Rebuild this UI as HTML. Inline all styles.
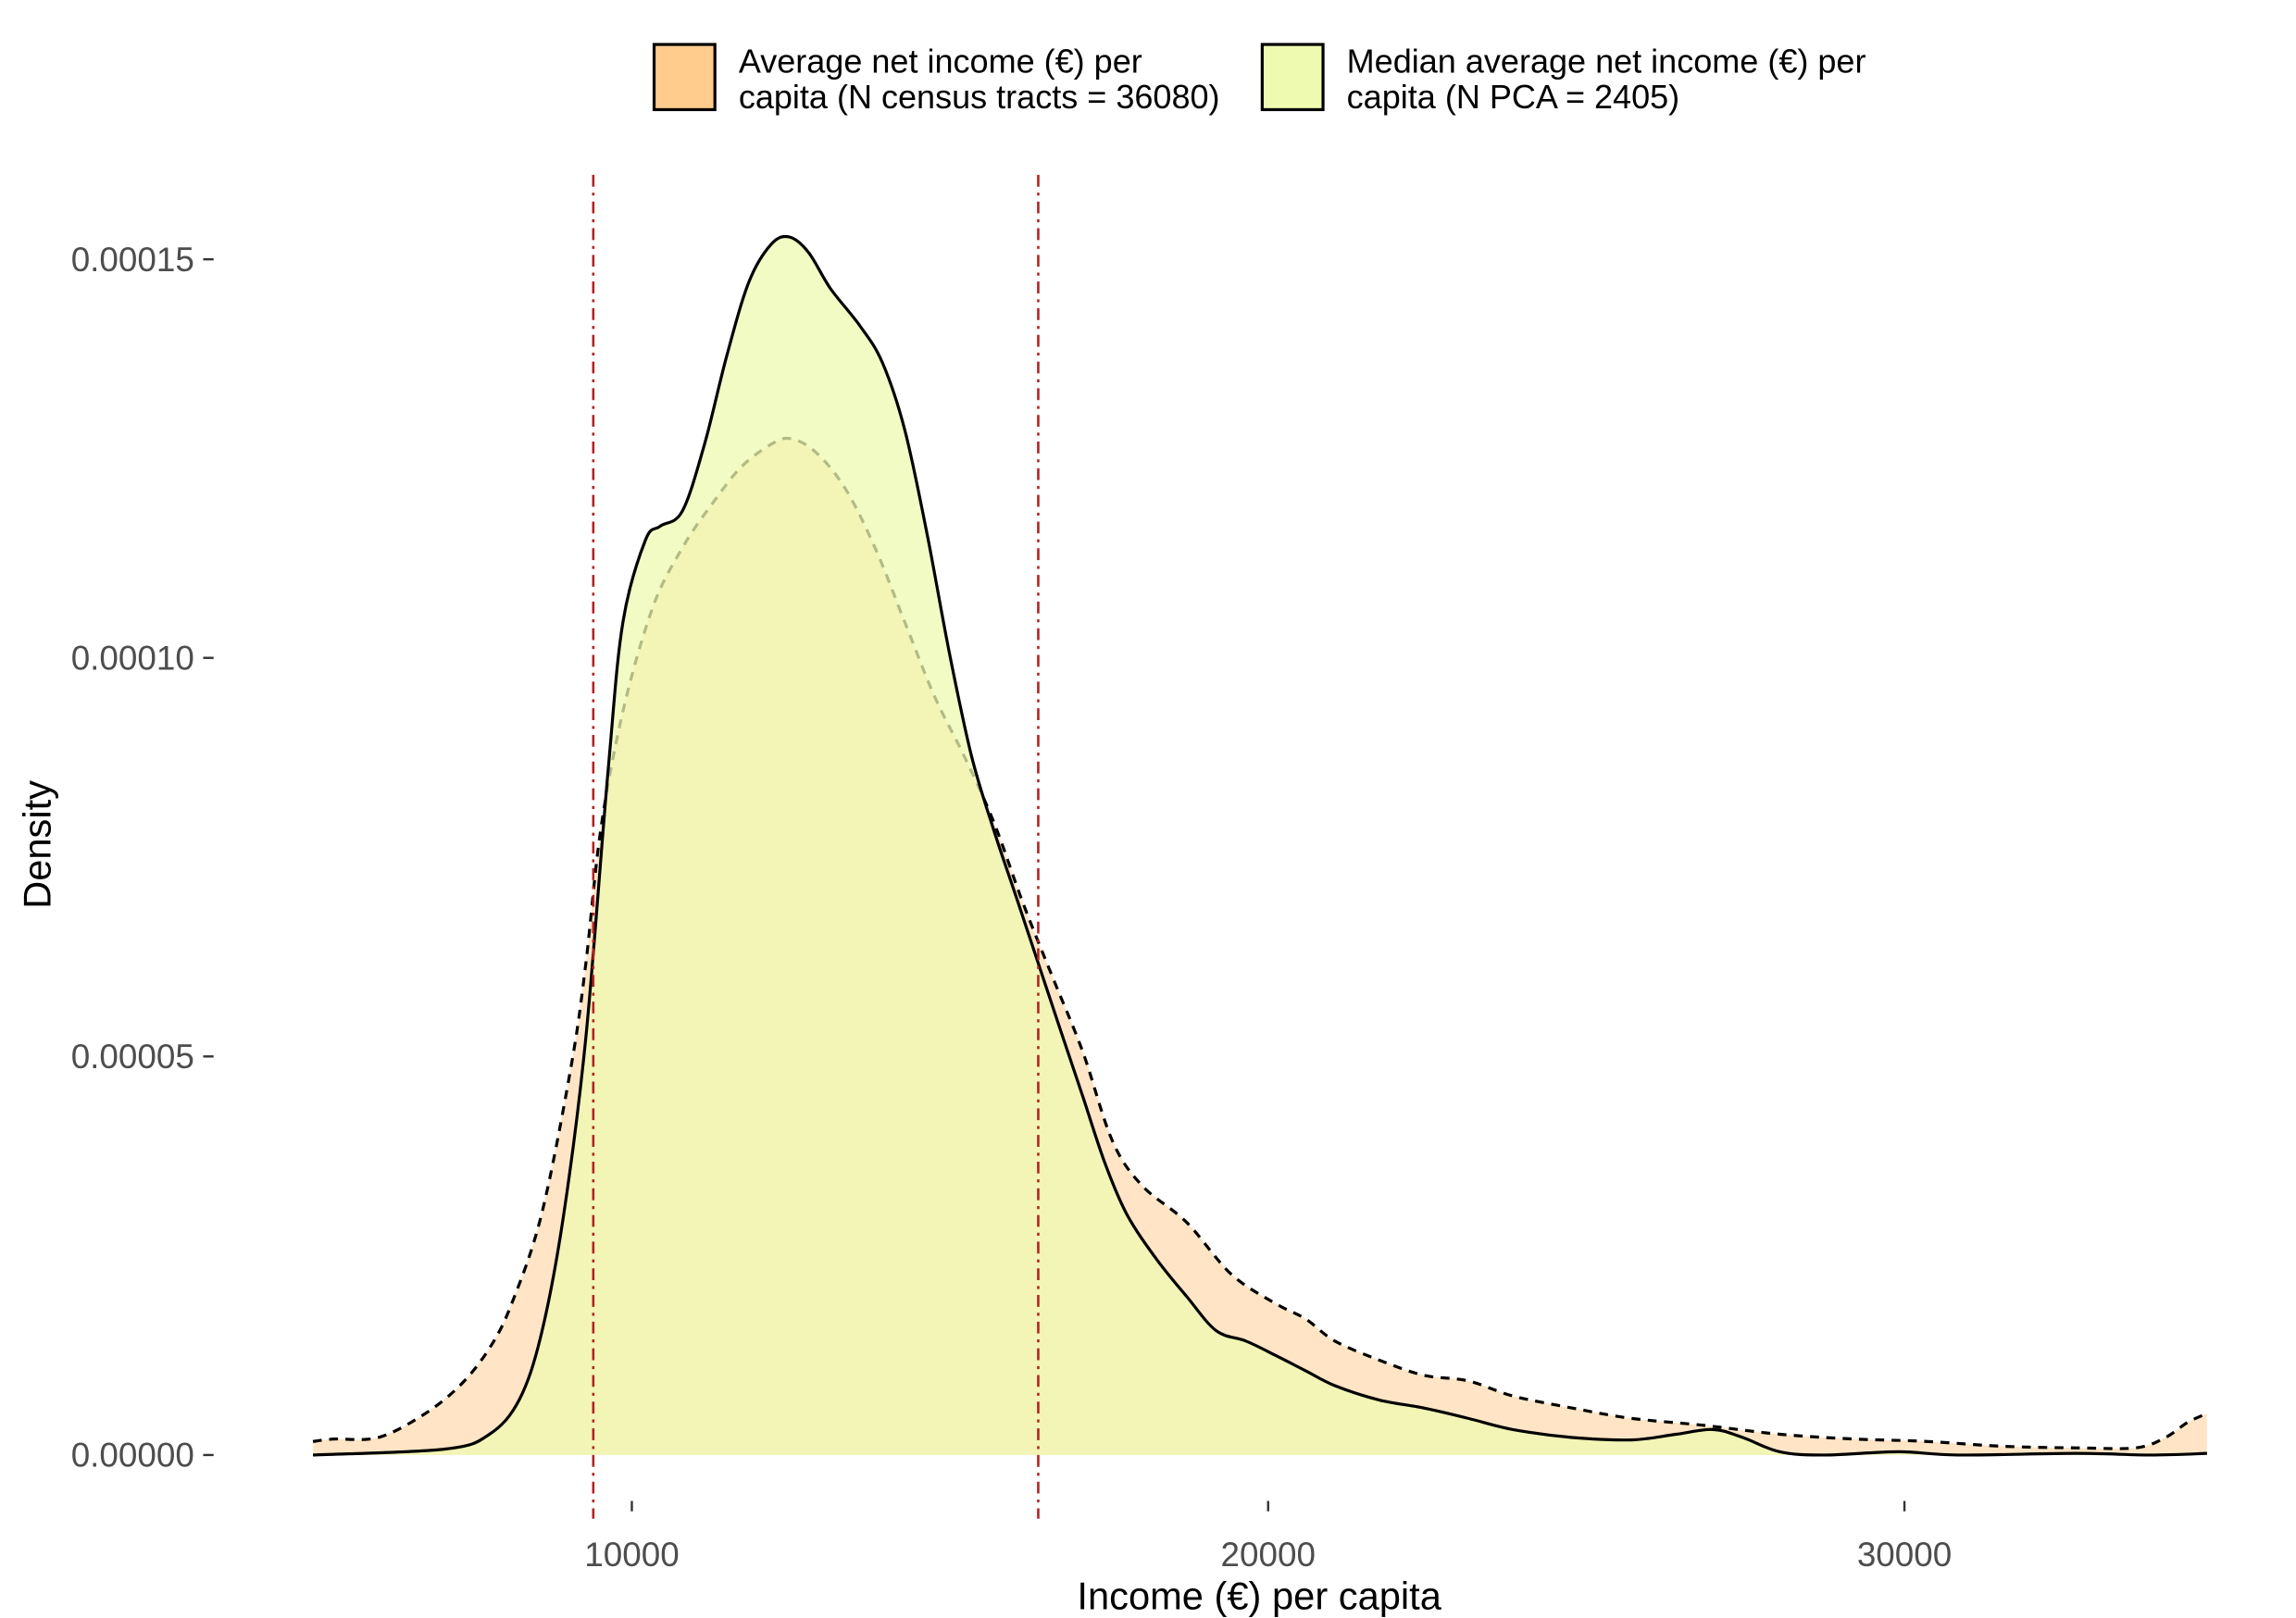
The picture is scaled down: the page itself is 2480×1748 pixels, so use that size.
<!DOCTYPE html>
<html><head><meta charset="utf-8"><style>html,body{margin:0;padding:0;background:#fff}svg{display:block}text{font-family:"Liberation Sans",sans-serif}</style></head>
<body>
<svg id="chart" width="2480" height="1748" viewBox="0 0 1548 1092" preserveAspectRatio="none" xmlns="http://www.w3.org/2000/svg">
<g id="legend">
 <rect x="441" y="30" width="41" height="44" fill="#FFCC8E" stroke="#000" stroke-width="2"/>
 <text x="498" y="49" font-size="22.5" fill="#000">Average net income (€) per</text>
 <text x="498" y="73" font-size="22.5" fill="#000">capita (N census tracts = 36080)</text>
 <rect x="851" y="30" width="41" height="44" fill="#EEFAB0" stroke="#000" stroke-width="2"/>
 <text x="908" y="49" font-size="22.5" fill="#000">Median average net income (€) per</text>
 <text x="908" y="73" font-size="22.5" fill="#000">capita (N PCA = 2405)</text>
</g>
<g id="plot"></g>
<g id="axes"></g>
<text x="849" y="1086" font-size="26" text-anchor="middle" fill="#000">Income (€) per capita</text>
<text transform="translate(34,570) rotate(-90)" font-size="26" text-anchor="middle" fill="#000">Density</text>
</svg>
<script>
const medianIncome=[4988,7063,7762,8228,8578,8928,9277,9627,9860,10210,10443,10793,11142,11492,11842,12191,12471,12774,13124,13590,13940,14289,14639,14988,15338,15688,16037,16387,16737,17086,17436,17786,18252,18718,19184,19650,20117,20583,21049,21748,22447,23147,23846,24778,25711,26410,26993,27459,28042,28741,29907,30839,32704,33869,34755];
const medianDensity=[0,0.074,0.26,0.69,1.52,3.01,5.24,8.59,10.45,11.47,11.65,11.84,12.68,13.79,14.72,15.19,15.28,15.09,14.63,14.16,13.70,12.86,11.56,10.07,8.77,7.84,7.01,6.17,5.33,4.50,3.66,3.01,2.45,1.99,1.56,1.43,1.25,1.06,0.87,0.69,0.59,0.46,0.32,0.22,0.19,0.26,0.32,0.22,0.04,0,0.04,0,0.02,0,0.02];
const avgIncome=[4988,5315,6014,6713,7296,7762,8112,8578,9044,9277,9510,9860,10327,10793,11259,11725,12191,12494,12890,13357,13823,14289,14755,15221,15688,16154,16620,17086,17552,18019,18718,19417,20117,20583,21049,21748,22447,23147,23846,24778,25711,26876,28042,29207,30373,31538,32704,33636,34102,34452,34755];
const avgDensity=[0.17,0.20,0.22,0.50,0.87,1.34,1.90,3.01,4.87,6.17,7.84,9.33,10.63,11.38,11.93,12.40,12.68,12.75,12.58,12.12,11.38,10.45,9.52,8.77,7.94,6.91,5.98,5.06,3.94,3.38,2.92,2.27,1.90,1.71,1.43,1.19,1.00,0.93,0.74,0.59,0.46,0.37,0.26,0.20,0.17,0.11,0.09,0.09,0.22,0.41,0.52];
const vlines=[9394,16387];
const xTicks=[10000,20000,30000];
const xTickLabels=["10000","20000","30000"];
const yTicks=[0,5,10,15];
const yTickLabels=["0.00000","0.00005","0.00010","0.00015"];
const NS="http://www.w3.org/2000/svg";
function X(v){return 426+(v-10000)*429/10000;}
function Y(d){return 982-d*807/15;}
function mk(tag,attrs,parent){const e=document.createElementNS(NS,tag);for(const k in attrs)e.setAttribute(k,attrs[k]);parent.appendChild(e);return e;}
const plot=document.getElementById('plot'),axes=document.getElementById('axes');
function linePath(xs,ys){
 const p=xs.map((v,i)=>[X(v),Y(ys[i])]);
 let d='M'+p[0][0].toFixed(1)+','+p[0][1].toFixed(1);
 for(let i=0;i<p.length-1;i++){
  const p0=p[Math.max(0,i-1)],p1=p[i],p2=p[i+1],p3=p[Math.min(p.length-1,i+2)];
  const c1=[p1[0]+(p2[0]-p0[0])/6,p1[1]+(p2[1]-p0[1])/6];
  const c2=[p2[0]-(p3[0]-p1[0])/6,p2[1]-(p3[1]-p1[1])/6];
  d+=' C'+c1[0].toFixed(1)+','+c1[1].toFixed(1)+' '+c2[0].toFixed(1)+','+c2[1].toFixed(1)+' '+p2[0].toFixed(1)+','+p2[1].toFixed(1);
 }
 return d;
}
function areaPath(xs,ys){return linePath(xs,ys)+' L'+X(xs[xs.length-1]).toFixed(1)+','+Y(0)+' L'+X(xs[0]).toFixed(1)+','+Y(0)+' Z';}
let e;
e=mk('path',{d:areaPath(avgIncome,avgDensity),fill:'#FFE5C6'},plot);


e=mk('path',{d:linePath(avgIncome,avgDensity),fill:'none',stroke:'#000','stroke-width':2,'stroke-dasharray':'6,5'},plot);


e=mk('path',{d:areaPath(medianIncome,medianDensity),fill:'#EEFAB0','fill-opacity':0.75},plot);


e=mk('path',{d:linePath(medianIncome,medianDensity),fill:'none',stroke:'#000','stroke-width':2},plot);


vlines.forEach((v,i)=>{
 const l=mk('line',{x1:X(v),x2:X(v),y1:118,y2:1025,stroke:'#B22222','stroke-width':1.6,'stroke-dasharray':'8,4,2,4'},plot);
 
 
});
xTicks.forEach((v,i)=>{
 const t=mk('line',{x1:X(v),x2:X(v),y1:1013,y2:1020,stroke:'#333','stroke-width':1.5},axes);
 
 
 const tx=mk('text',{x:X(v),y:1057,'font-size':23,'text-anchor':'middle',fill:'#4D4D4D'},axes);
 tx.textContent=xTickLabels[i];
 
 
});
yTicks.forEach((v,i)=>{
 const t=mk('line',{x1:137,x2:144,y1:Y(v),y2:Y(v),stroke:'#333','stroke-width':1.5},axes);
 
 
 const tx=mk('text',{x:131,y:Y(v)+8,'font-size':23,'text-anchor':'end',fill:'#4D4D4D'},axes);
 tx.textContent=yTickLabels[i];
 
 
});
</script>
</body></html>
